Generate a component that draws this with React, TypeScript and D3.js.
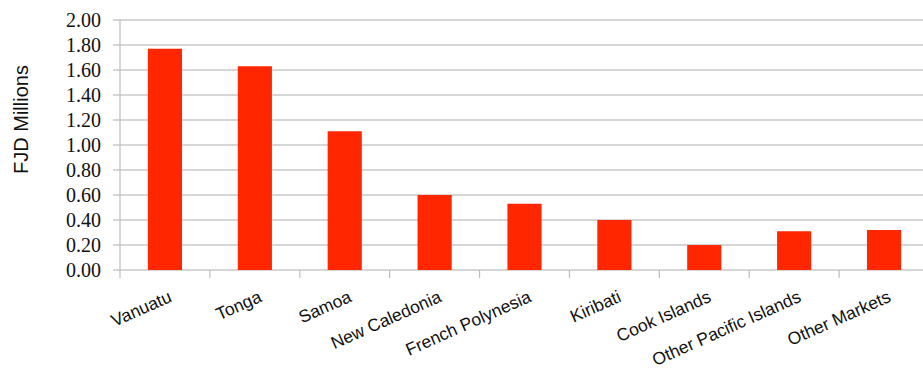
import React from "react";
import * as d3 from "d3";

const categories = [
  "Vanuatu",
  "Tonga",
  "Samoa",
  "New Caledonia",
  "French Polynesia",
  "Kiribati",
  "Cook Islands",
  "Other Pacific Islands",
  "Other Markets",
];
const values = [1.77, 1.63, 1.11, 0.6, 0.53, 0.4, 0.2, 0.31, 0.32];
const yTicks = [0, 0.2, 0.4, 0.6, 0.8, 1.0, 1.2, 1.4, 1.6, 1.8, 2.0];
const yTitle = "FJD Millions";

export default function App() {
  const W = 923;
  const H = 371;
  const left = 120;
  const right = 929;
  const top = 20;
  const bottom = 270;

  const x = d3.scaleBand<string>().domain(categories).range([left, right]).paddingInner(0.62).paddingOuter(0.31);
  const xb = d3.scaleBand<string>().domain(categories).range([left, right]).padding(0);
  const y = d3.scaleLinear().domain([0, 2]).range([bottom, top]);

  const grid = "#c9c9c9";

  return (
    <div style={{ position: "absolute", left: 0, top: 0 }}>
      <svg width={W} height={H} style={{ display: "block", background: "#fff" }}>
        {yTicks.map((t) => (
          <g key={t}>
            <line x1={113} x2={right} y1={y(t)} y2={y(t)} stroke={grid} strokeWidth={1.6} />
            <text
              x={101}
              y={y(t)}
              dy="0.35em"
              textAnchor="end"
              fontFamily="'Liberation Serif', serif"
              fontSize={20}
              fill="#111"
            >
              {t.toFixed(2)}
            </text>
          </g>
        ))}
        <line x1={left} x2={left} y1={top} y2={bottom + 8} stroke="#bdbdbd" strokeWidth={1.2} />
        {categories.map((c) => (
          <line
            key={"tk" + c}
            x1={(xb(c) as number) + xb.bandwidth()}
            x2={(xb(c) as number) + xb.bandwidth()}
            y1={bottom}
            y2={bottom + 8}
            stroke="#bdbdbd"
            strokeWidth={1.2}
          />
        ))}
        {categories.map((c, i) => (
          <rect
            key={c}
            x={x(c)}
            y={y(values[i])}
            width={x.bandwidth()}
            height={bottom - y(values[i])}
            fill="#ff2600"
          />
        ))}
        {categories.map((c) => {
          const cx = (xb(c) as number) + xb.bandwidth() / 2 + 8;
          const cy = 301;
          return (
            <text
              key={"lb" + c}
              x={cx}
              y={cy}
              textAnchor="end"
              transform={`rotate(-24 ${cx} ${cy})`}
              fontFamily="'Liberation Sans', Arial, sans-serif"
              fontSize={17.5}
              fill="#111"
            >
              {c}
            </text>
          );
        })}
        <text
          transform={`translate(28 ${(62 + 177) / 2}) rotate(-90)`}
          textAnchor="middle"
          fontFamily="'Liberation Sans', Arial, sans-serif"
          fontSize={20}
          fill="#111"
        >
          {yTitle}
        </text>
      </svg>
    </div>
  );
}
